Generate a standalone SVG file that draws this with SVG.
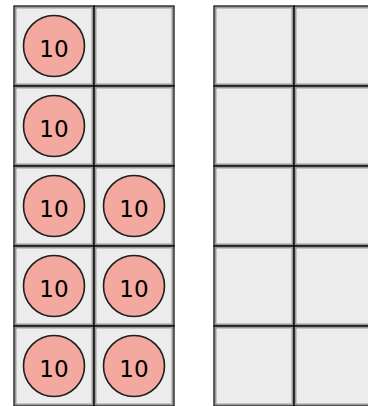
<svg xmlns="http://www.w3.org/2000/svg" width="368" height="406" viewBox="0 0 368 406">
<defs>
<style>
.cell{fill:#ececec;stroke:#9a9a9a;stroke-width:2}
.line{fill:none;stroke:#000;stroke-width:1.2}
.chip circle{fill:#f4a9a0;stroke:#1e1e1e;stroke-width:1.6}
.chip text{font-family:"DejaVu Sans",sans-serif;font-size:23px;fill:#000;text-anchor:middle}
</style>
<g id="cellshape"><rect class="cell" x="1.5" y="1.5" width="77" height="77"/><rect class="line" x="0" y="0" width="80" height="80"/></g>
</defs>
<rect width="368" height="406" fill="#fff"/>
<g id="frame-left">
<use href="#cellshape" x="14" y="6"/><use href="#cellshape" x="94" y="6"/>
<use href="#cellshape" x="14" y="86"/><use href="#cellshape" x="94" y="86"/>
<use href="#cellshape" x="14" y="166"/><use href="#cellshape" x="94" y="166"/>
<use href="#cellshape" x="14" y="246"/><use href="#cellshape" x="94" y="246"/>
<use href="#cellshape" x="14" y="326"/><use href="#cellshape" x="94" y="326"/>
</g>
<g id="frame-right">
<use href="#cellshape" x="214" y="6"/><use href="#cellshape" x="294" y="6"/>
<use href="#cellshape" x="214" y="86"/><use href="#cellshape" x="294" y="86"/>
<use href="#cellshape" x="214" y="166"/><use href="#cellshape" x="294" y="166"/>
<use href="#cellshape" x="214" y="246"/><use href="#cellshape" x="294" y="246"/>
<use href="#cellshape" x="214" y="326"/><use href="#cellshape" x="294" y="326"/>
</g>
<g id="chip1" class="chip"><circle cx="54" cy="46" r="30.5"/><text x="54" y="57">10</text></g>
<g id="chip2" class="chip"><circle cx="54" cy="126" r="30.5"/><text x="54" y="137">10</text></g>
<g id="chip3" class="chip"><circle cx="54" cy="206" r="30.5"/><text x="54" y="217">10</text></g>
<g id="chip4" class="chip"><circle cx="134" cy="206" r="30.5"/><text x="134" y="217">10</text></g>
<g id="chip5" class="chip"><circle cx="54" cy="286" r="30.5"/><text x="54" y="297">10</text></g>
<g id="chip6" class="chip"><circle cx="134" cy="286" r="30.5"/><text x="134" y="297">10</text></g>
<g id="chip7" class="chip"><circle cx="54" cy="366" r="30.5"/><text x="54" y="377">10</text></g>
<g id="chip8" class="chip"><circle cx="134" cy="366" r="30.5"/><text x="134" y="377">10</text></g>
</svg>
